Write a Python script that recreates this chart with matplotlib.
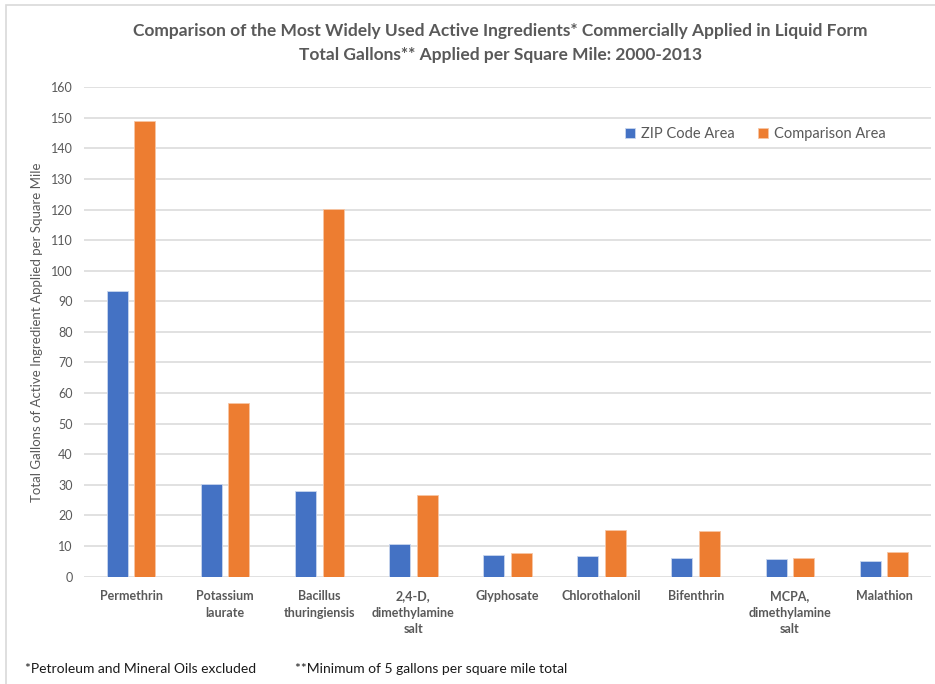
import numpy as np
import matplotlib.pyplot as plt
from matplotlib.patches import Rectangle

plt.rcParams['font.family'] = ['Lato', 'DejaVu Sans']

ingredients = ['Permethrin', 'Potassium\nlaurate', 'Bacillus\nthuringiensis',
               '2,4-D,\ndimethylamine\nsalt', 'Glyphosate', 'Chlorothalonil',
               'Bifenthrin', 'MCPA,\ndimethylamine\nsalt', 'Malathion']
zip_area = [93.3, 30.2, 28.0, 10.7, 7.1, 6.7, 6.0, 5.8, 5.0]
comparison_area = [148.9, 56.9, 120.3, 26.7, 7.6, 15.1, 14.9, 6.0, 7.9]

grey = '#595959'
fig = plt.figure(figsize=(9.35, 6.84), dpi=100)
ax = fig.add_axes([84 / 935, 1 - 576.5 / 684, 847 / 935, 489.2 / 684])

# chart border
fig.patches.append(Rectangle((6 / 935, -0.1), 1.2, 1 - 5 / 684 + 0.1,
                             transform=fig.transFigure, fill=False,
                             edgecolor='#d9d9d9', linewidth=1.2))

x = np.arange(len(ingredients))
w = 0.223
off = 0.146
ax.bar(x - off, zip_area, w, color='#4472C4', edgecolor='#c9d6ee',
       linewidth=0.6, label='ZIP Code Area', zorder=3)
ax.bar(x + off, comparison_area, w, color='#ED7D31', edgecolor='#f7c6a5',
       linewidth=0.6, label='Comparison Area', zorder=3)

ax.set_xlim(-0.5, len(ingredients) - 0.5)
ax.set_ylim(0, 160)
ax.set_yticks(np.arange(0, 161, 10))
ax.set_xticks(x)
ax.set_xticklabels(ingredients, fontsize=9, fontweight='bold', color=grey,
                   linespacing=1.45)
ax.tick_params(axis='y', length=0, labelsize=9, labelcolor=grey, pad=8)
ax.tick_params(axis='x', length=0, pad=10)
ax.grid(axis='y', color='#d9d9d9', linewidth=1.1, zorder=0)
for s in ax.spines.values():
    s.set_visible(False)

ax.set_ylabel('Total Gallons of Active Ingredient Applied per Square Mile',
              fontsize=9.5, color=grey, labelpad=5.5)

ax.legend(loc='upper right', bbox_to_anchor=(0.962, 0.945), ncol=2,
          frameon=False, fontsize=10.5, labelcolor=grey, handlelength=0.7,
          handleheight=0.7, handletextpad=0.4, columnspacing=1.6)

fig.text(0.535, 1 - 31 / 684, 'Comparison of the Most Widely Used Active Ingredients* '
         'Commercially Applied in Liquid Form', ha='center', va='center',
         fontsize=12.5, fontweight='bold', color=grey)
fig.text(0.535, 1 - 55 / 684, 'Total Gallons** Applied per Square Mile: 2000-2013',
         ha='center', va='center', fontsize=12.5, fontweight='bold', color=grey)

fig.text(25 / 935, 1 - 669 / 684, '*Petroleum and Mineral Oils excluded',
         ha='left', va='center', fontsize=10, color='#1a1a1a')
fig.text(295 / 935, 1 - 669 / 684, '**Minimum of 5 gallons per square mile total',
         ha='left', va='center', fontsize=10, color='#1a1a1a')

fig.savefig('out.png', dpi=100)
